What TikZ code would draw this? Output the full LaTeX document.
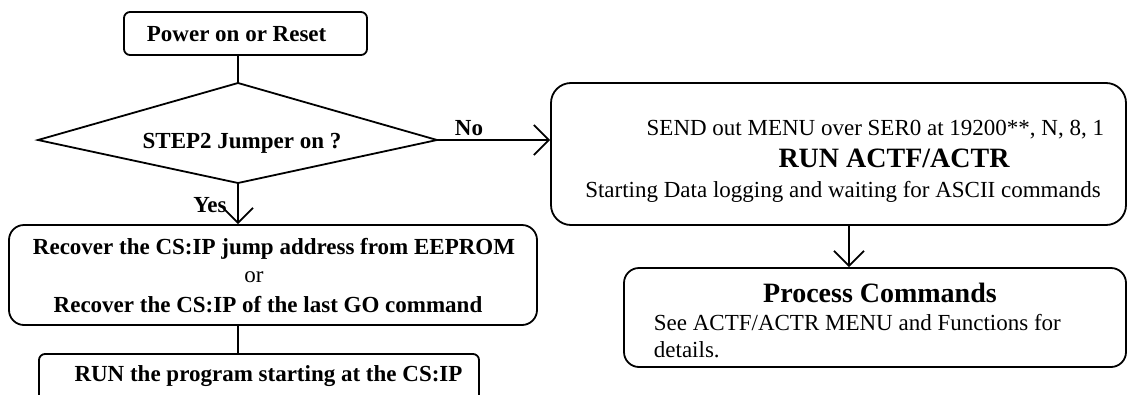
\documentclass[tikz,border=0pt]{standalone}
\usepackage{fontspec}
\setmainfont{Liberation Serif}
\usetikzlibrary{arrows.meta}
\begin{document}
\begin{tikzpicture}[x=1pt,y=-1pt,
  line width=1.8pt,
  box/.style={draw,line width=1.8pt,inner sep=0pt,minimum width=#1},
  txt/.style={inner sep=0pt,font=\fontsize{23}{27}\selectfont},
  btxt/.style={inner sep=0pt,font=\fontsize{23}{27}\selectfont\bfseries},
  bigtxt/.style={inner sep=0pt,font=\fontsize{28}{32}\selectfont\bfseries},
  arr/.style={-{Straight Barb[length=15pt,width=30pt,line width=1.8pt]}}]
\clip (0,0) rectangle (1128,394);
\fill[white] (0,0) rectangle (1128,394);
% boxes
\node[box=243pt,minimum height=43pt,rounded corners=6pt] (power) at (245.5,33.5) {};
\node[box=528pt,minimum height=100pt,rounded corners=15pt] (rec) at (273,275) {};
\node[box=440pt,minimum height=56pt,rounded corners=6pt] (run) at (259,382) {};
\node[box=575pt,minimum height=142pt,rounded corners=20pt] (send) at (838.5,154) {};
\node[box=502pt,minimum height=99pt,rounded corners=15pt] (proc) at (875,317.5) {};
% diamond
\coordinate (dtop) at (238,83);
\coordinate (dleft) at (38,140);
\coordinate (dright) at (437,140);
\coordinate (dbot) at (238,183);
\draw[line join=miter] (dtop) -- (dright) -- (dbot) -- (dleft) -- cycle;
\coordinate (sp) at (849,0);
% texts
\node[btxt,anchor=base west] (tpower) at (146,41) {Power on or Reset};
\node[btxt,anchor=base] (tstep) at (242,148.5) {STEP2 Jumper on ?};
\node[btxt,anchor=base] (tno) at (469,135.5) {No};
\node[btxt,anchor=base] (tyes) at (210,212.5) {Yes};
\node[btxt,anchor=base] (trec1) at (274,254.5) {Recover the CS:IP jump address from EEPROM};
\node[txt,anchor=base] (tor) at (254,282) {or};
\node[btxt,anchor=base] (trec2) at (268,312.5) {Recover the CS:IP of the last GO command};
\node[btxt,anchor=base] (trun) at (268.5,381) {RUN the program starting at the CS:IP};
\node[txt,anchor=base east] (tsend) at (1105,135.5) {SEND out MENU over SER0 at 19200**, N, 8, 1};
\node[bigtxt,anchor=base] (tactf) at (894,167) {RUN ACTF/ACTR};
\node[txt,anchor=base] (tstart) at (843,197.5) {Starting Data logging and waiting for ASCII commands};
\node[bigtxt,anchor=base] (tproc) at (880,302) {Process Commands};
\node[txt,anchor=base west] (tsee) at (653,330.5) {See ACTF/ACTR MENU and Functions for};
\node[txt,anchor=base west] (tdet) at (653,357.5) {details.};
% connectors
\draw (power.south -| dtop) -- (dtop);
\draw[arr] (dright) -- (send.west |- dright);
\draw[arr] (dbot) -- (rec.north -| dbot);
\draw (rec.south -| dbot) -- (run.north -| dbot);
\draw[arr] (send.south -| sp) -- (proc.north -| sp);
\end{tikzpicture}
\end{document}
